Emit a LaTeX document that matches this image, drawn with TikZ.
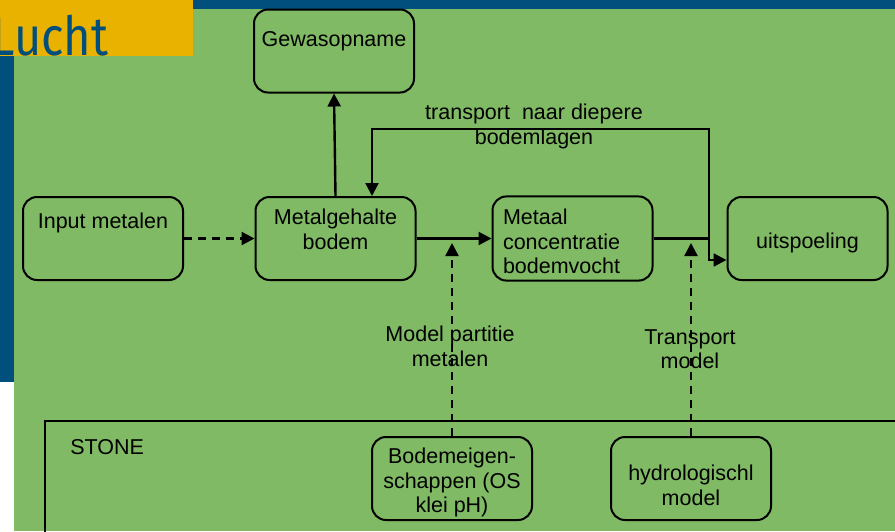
\documentclass[tikz,border=0pt]{standalone}
\usepackage{fontspec}
\setmainfont{Liberation Sans}
\newfontfamily\luchtfont{Fira Sans}
\usetikzlibrary{arrows.meta,positioning,calc}
\definecolor{bggreen}{HTML}{80BA65}
\definecolor{bannerblue}{HTML}{004F7D}
\definecolor{banneryellow}{HTML}{E9B200}

\begin{document}
\begin{tikzpicture}[
  x=0.5pt, y=-0.5pt,
  box/.style={draw, line width=1pt, rounded corners=7pt, minimum width=80pt, minimum height=41.5pt, align=center, font=\fontsize{10.75}{12.25}\selectfont},
  lbl/.style={align=center, inner sep=0pt, font=\fontsize{10.75}{12.25}\selectfont},
  arr/.style={-{Triangle[length=6.5pt,width=6.5pt]}, line width=1.2pt},
  dasharr/.style={arr, dash pattern=on 4pt off 3pt}
]
  \useasboundingbox (0,0) rectangle (895,531);

  % Background
  \fill[bggreen] (14,9) rectangle (895,531);
  \fill[bannerblue] (193,0) rectangle (895,9);
  \fill[bannerblue] (0,56) rectangle (14,382);
  \begin{scope}
    \clip (0,0) rectangle (193,56);
    \fill[banneryellow] (0,0) rectangle (193,56);
    \node[anchor=base west, inner sep=0pt, text=bannerblue, font=\luchtfont\fontsize{27}{27}\selectfont] (title) at (-9,55) {\scalebox{0.87}[1]{Lucht}};
  \end{scope}

  % STONE frame
  \draw[line width=1pt] (45,545) -- (45,421) -- (905,421);
  \node[lbl, anchor=west] (stone) at (70,447) {STONE};

  % Top row
  \node[box, text depth=12pt] (gewas) at (334,51) {Gewasopname};

  % Middle row
  \node[box, text depth=18pt] (input) at (103,238.5) {Input metalen};
  \node[box, text depth=9.3pt] (gehalte) at (335.5,238.5) {Metalgehalte\\bodem};
  \node[box, align=left, text width=69.5pt, text height=10.8pt] (conc) at (572.5,238.5) {Metaal\\concentratie\\bodemvocht};
  \node[box, text height=11.8pt] (uitsp) at (807.5,238.5) {uitspoeling};

  % Bottom row
  \node[box, inner ysep=1pt, text height=36.3pt] (bodem) at (452,478.5) {Bodemeigen-\\schappen (OS\\klei pH)};
  \node[box, text height=27pt] (hydro) at (691,478.5) {hydrologischl\\model};

  % Labels
  \node[lbl] (trans) at (534,126.5) {transport\ \ naar diepere\\bodemlagen};
  \node[lbl] (partitie) at (450,346.5) {Model partitie\\metalen};
  \node[lbl] (transmod) at (690,349) {Transport\\model};

  % Connectors
  \coordinate (split) at (709,238.5);
  \coordinate (bend) at (709,129);
  \coordinate (tipA) at (452,243);
  \coordinate (tipB) at (691,243);
  \draw[arr] (gehalte.north) -- (gewas.south);
  \draw[dasharr] (input) -- (gehalte);
  \draw[arr] (gehalte) -- (conc);
  \draw[line width=1.2pt] (conc.east) -- (split);
  \draw[arr] (split) |- ($(uitsp.west)+(0,21.5)$);
  \draw[arr] (split) -- (bend) -| ($(gehalte.north)+(36.5,0)$);
  \draw[dasharr] (bodem.north) -- (tipA);
  \draw[dasharr] (hydro.north) -- (tipB);
\end{tikzpicture}
\end{document}
